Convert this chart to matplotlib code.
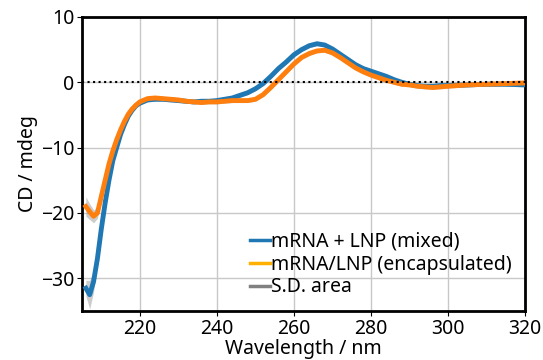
import numpy as np
import matplotlib
matplotlib.use("Agg")
import matplotlib.pyplot as plt
from matplotlib.lines import Line2D

plt.rcParams['font.family'] = ['Noto Sans', 'DejaVu Sans']

wavelength = [206, 207, 208, 209, 210, 211, 212, 213, 214, 215, 216, 217, 218, 219, 220,
              222, 224, 226, 228, 230, 232, 234, 236, 238, 240, 242, 244, 246, 248, 250,
              252, 254, 256, 258, 260, 262, 264, 266, 268, 270, 272, 274, 276, 278, 280,
              282, 284, 286, 288, 290, 292, 294, 296, 298, 300, 305, 310, 315, 320]

cd_mixed = [-31.5, -32.5, -30.5, -27, -22.5, -18.5, -15, -12, -10, -8, -6.5, -5.2, -4.3, -3.6, -3.2,
            -2.7, -2.6, -2.6, -2.7, -2.8, -2.9, -3.0, -2.9, -2.9, -2.8, -2.6, -2.4, -2.0, -1.6, -1.0,
            -0.2, 0.9, 2.1, 3.1, 4.2, 5.0, 5.6, 5.9, 5.7, 5.1, 4.3, 3.5, 2.7, 2.1, 1.7,
            1.3, 0.9, 0.4, 0.0, -0.3, -0.5, -0.6, -0.6, -0.5, -0.5, -0.4, -0.3, -0.3, -0.4]

cd_encap = [-19, -19.8, -20.5, -20, -17.5, -15, -12.5, -10.5, -8.8, -7.3, -6, -4.9, -4.1, -3.5, -3.0,
            -2.5, -2.4, -2.5, -2.6, -2.7, -2.9, -3.0, -3.1, -3.0, -3.0, -2.9, -2.8, -2.8, -2.8, -2.6,
            -1.9, -0.8, 0.4, 1.6, 2.8, 3.8, 4.4, 4.8, 4.9, 4.5, 3.8, 3.0, 2.2, 1.6, 1.1,
            0.7, 0.3, 0.0, -0.3, -0.4, -0.6, -0.7, -0.8, -0.7, -0.6, -0.4, -0.3, -0.2, -0.1]

sd_mixed = [1.2, 2.2, 1.6, 1.0, 0.7, 0.5, 0.4, 0.4, 0.4, 0.4, 0.3, 0.3, 0.3, 0.3, 0.3,
            0.3, 0.3, 0.3, 0.3, 0.3, 0.3, 0.3, 0.3, 0.3, 0.3, 0.3, 0.3, 0.3, 0.3, 0.3,
            0.3, 0.3, 0.3, 0.3, 0.3, 0.3, 0.3, 0.3, 0.3, 0.3, 0.3, 0.3, 0.3, 0.3, 0.3,
            0.3, 0.3, 0.3, 0.3, 0.3, 0.3, 0.3, 0.3, 0.3, 0.3, 0.3, 0.3, 0.3, 0.3]

sd_encap = [1.5, 1.2, 1.0, 0.8, 0.6, 0.5, 0.4, 0.4, 0.4, 0.3, 0.3, 0.3, 0.3, 0.3, 0.3,
            0.3, 0.3, 0.3, 0.3, 0.3, 0.3, 0.3, 0.3, 0.3, 0.3, 0.3, 0.3, 0.3, 0.3, 0.3,
            0.3, 0.3, 0.3, 0.3, 0.3, 0.3, 0.3, 0.3, 0.3, 0.3, 0.3, 0.3, 0.3, 0.3, 0.3,
            0.3, 0.3, 0.3, 0.3, 0.3, 0.3, 0.3, 0.3, 0.3, 0.3, 0.3, 0.3, 0.3, 0.3]

wl = np.array(wavelength)
mixed = np.array(cd_mixed)
encap = np.array(cd_encap)

fig = plt.figure(figsize=(5.43, 3.6), dpi=100)
ax = fig.add_axes([0.151, 0.136, 0.816, 0.817])

ax.fill_between(wl, mixed - np.array(sd_mixed), mixed + np.array(sd_mixed), color='gray', alpha=0.4, lw=0)
ax.fill_between(wl, encap - np.array(sd_encap), encap + np.array(sd_encap), color='gray', alpha=0.4, lw=0)
ax.plot(wl, mixed, color='#1f77b4', lw=3.5, zorder=3)
ax.plot(wl, encap, color='#ff7f0e', lw=3.5, zorder=4)
ax.axhline(0, color='black', ls=':', lw=1.5, zorder=5)

ax.set_xlim(205, 320)
ax.set_ylim(-35, 10)
ax.set_xticks([220, 240, 260, 280, 300, 320])
ax.set_yticks([-30, -20, -10, 0, 10])
ax.grid(True, color='#c8c8c8', lw=1)
ax.set_axisbelow(True)
for s in ax.spines.values():
    s.set_linewidth(2)
ax.tick_params(labelsize=14, pad=2)
ax.set_xlabel('Wavelength / nm', fontsize=14, labelpad=0)
ax.set_ylabel('CD / mdeg', fontsize=14, labelpad=2)

handles = [Line2D([], [], color='#1f77b4', lw=2.5),
           Line2D([], [], color='#ffb000', lw=2.5),
           Line2D([], [], color='gray', lw=2.5)]
labels = ['mRNA + LNP (mixed)', 'mRNA/LNP (encapsulated)', 'S.D. area']
ax.legend(handles, labels, loc='lower right', frameon=False, fontsize=14,
          handlelength=1.0, handletextpad=0.05, labelspacing=0.15, borderaxespad=0.3)

fig.savefig('out.png', dpi=100)
